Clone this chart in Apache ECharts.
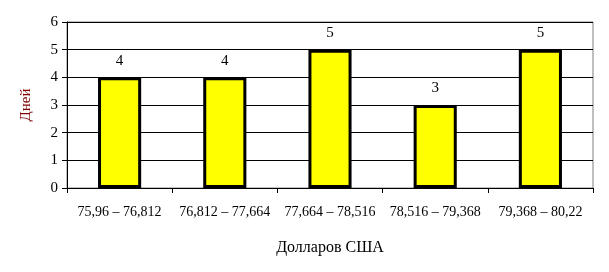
<!DOCTYPE html>
<html><head><meta charset="utf-8">
<script src="https://cdn.jsdelivr.net/npm/echarts@6/dist/echarts.min.js"></script>
<style>html,body{margin:0;padding:0;background:#fff}#c{width:609px;height:272px}</style>
</head><body><div id="c"></div>
<script>
var categories = ['75,96 – 76,812','76,812 – 77,664','77,664 – 78,516','78,516 – 79,368','79,368 – 80,22'];
var values = [4, 4, 5, 3, 5];
var yTicks = [0,1,2,3,4,5,6];
var F = '"Liberation Serif","Times New Roman",serif';
var chart = echarts.init(document.getElementById('c'));
chart.setOption({
  animation:false,
  grid:{left:67,right:16,top:22,bottom:84,show:true,borderColor:'#808080',borderWidth:1},
  xAxis:{type:'category',data:categories,
    axisLine:{lineStyle:{color:'#000',width:1}},
    axisTick:{show:true,length:5,lineStyle:{color:'#000'}},
    axisLabel:{interval:0,fontFamily:F,fontSize:14,color:'#000',margin:17},
    name:'Долларов США',nameLocation:'middle',nameGap:52,
    nameTextStyle:{fontFamily:F,fontSize:16,color:'#000',fontWeight:'normal'}},
  yAxis:{type:'value',min:0,max:6,interval:1,
    axisLine:{show:true,lineStyle:{color:'#000',width:1}},
    axisTick:{show:true,length:5,lineStyle:{color:'#000'}},
    splitLine:{lineStyle:{color:'#000',width:1}},
    axisLabel:{fontFamily:F,fontSize:15,color:'#000',margin:9,
      formatter:function(v){return yTicks.indexOf(v)>=0?String(v):'';}},
    name:'Дней',nameLocation:'middle',nameGap:33,nameRotate:90,
    nameTextStyle:{fontFamily:F,fontSize:15,color:'#800000',fontWeight:'normal'}},
  series:[{type:'bar',data:values,barWidth:'41%',
    itemStyle:{color:'#ffff00',borderColor:'#000',borderWidth:3},
    label:{show:true,position:'top',distance:9,fontFamily:F,fontSize:15,color:'#000'}}]
});
</script></body></html>
